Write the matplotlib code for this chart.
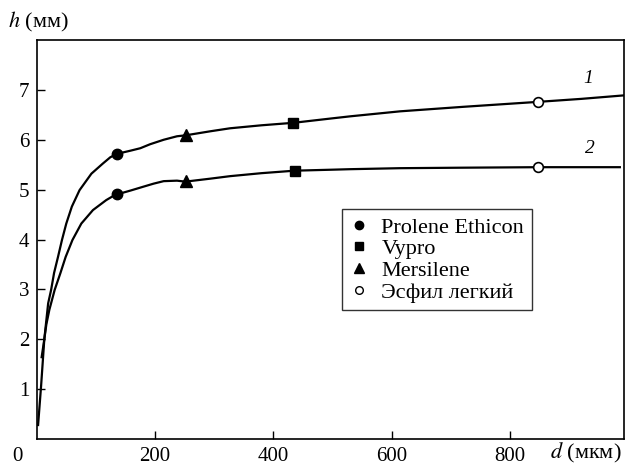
import matplotlib.pyplot as plt
from matplotlib.lines import Line2D

plt.rcParams['font.family'] = ['Liberation Serif', 'DejaVu Serif']
plt.rcParams['mathtext.fontset'] = 'stix'

# curve 1 (upper)
d1 = [3, 8, 13.5, 20, 25, 30, 36.6, 43.3, 50.6, 60, 73, 93, 112, 125, 137,
      158.6, 175.5, 192, 215, 237.5, 252.6, 293.7, 327, 380, 434, 500, 530,
      614, 720, 847, 920, 992]
h1 = [0.28, 1.05, 2.0, 2.72, 2.99, 3.33, 3.65, 3.99, 4.32, 4.66, 4.99, 5.32,
      5.52, 5.65, 5.72, 5.78, 5.83, 5.91, 6.0, 6.07, 6.09, 6.17, 6.23, 6.29,
      6.34, 6.43, 6.47, 6.57, 6.66, 6.76, 6.82, 6.89]

# curve 2 (lower)
d2 = [9, 13.5, 17, 22, 31, 40.5, 49.5, 61, 76, 95.6, 118, 128, 137.8, 158.6,
      181, 198, 215, 237.5, 251.5, 293.7, 327, 380, 436, 500, 530, 614, 720,
      847, 985]
h2 = [1.64, 2.0, 2.3, 2.59, 2.99, 3.32, 3.65, 3.99, 4.32, 4.59, 4.79, 4.86,
      4.91, 4.98, 5.06, 5.12, 5.17, 5.18, 5.16, 5.22, 5.27, 5.33, 5.38, 5.40,
      5.41, 5.43, 5.44, 5.45, 5.45]

# marker points (curve 1, curve 2)
prolene_d = [137, 137]
prolene_h = [5.72, 4.91]
vypro_d = [434, 436]
vypro_h = [6.34, 5.38]
mersilene_d = [252, 252]
mersilene_h = [6.10, 5.17]
esfil_d = [847, 847]
esfil_h = [6.76, 5.45]

labels = ['Prolene Ethicon', 'Vypro', 'Mersilene', 'Эсфил легкий']

fig = plt.figure(figsize=(6.27, 4.67), dpi=100)
ax = fig.add_axes([0.0598, 0.06, 0.9354, 0.8543])

ax.plot(d1, h1, color='black', lw=1.6, zorder=2)
ax.plot(d2, h2, color='black', lw=1.6, zorder=2)

ax.plot(prolene_d, prolene_h, 'o', color='black', ms=7.5, zorder=3)
ax.plot(vypro_d, vypro_h, 's', color='black', ms=7, zorder=3)
ax.plot(mersilene_d, mersilene_h, '^', color='black', ms=8, zorder=3)
ax.plot(esfil_d, esfil_h, 'o', mfc='white', mec='black', mew=1.2, ms=7, zorder=3)

ax.text(932, 7.23, '1', style='italic', fontsize=14, ha='center', va='center')
ax.text(935, 5.83, '2', style='italic', fontsize=14, ha='center', va='center')

ax.set_xlim(2, 992)
ax.set_ylim(0, 8)
ax.set_xticks([200, 400, 600, 800])
ax.set_yticks([1, 2, 3, 4, 5, 6, 7])
ax.tick_params(direction='in', length=6, width=1, labelsize=15, pad=6)
for s in ax.spines.values():
    s.set_linewidth(1.2)

ax.text(-0.025, -0.02, '0', transform=ax.transAxes, fontsize=15,
        ha='right', va='top')
fig.text(0.013, 0.952, r'$h$ (мм)', fontsize=16, ha='left', va='center')
fig.text(0.992, 0.004, r'$d$ (мкм)', fontsize=16, ha='right', va='bottom')

handles = [
    Line2D([], [], ls='none', marker='o', color='black', ms=6),
    Line2D([], [], ls='none', marker='s', color='black', ms=5.5),
    Line2D([], [], ls='none', marker='^', color='black', ms=6.5),
    Line2D([], [], ls='none', marker='o', mfc='white', mec='black', ms=5.5),
]
leg = ax.legend(handles, labels, loc='upper left', bbox_to_anchor=(0.52, 0.576),
                fontsize=16, frameon=True, fancybox=False, edgecolor='black',
                handlelength=0.8, handletextpad=0.6, labelspacing=0.05,
                borderpad=0.35, borderaxespad=0)
leg.get_frame().set_linewidth(1.0)

fig.savefig('out.png', dpi=100)
